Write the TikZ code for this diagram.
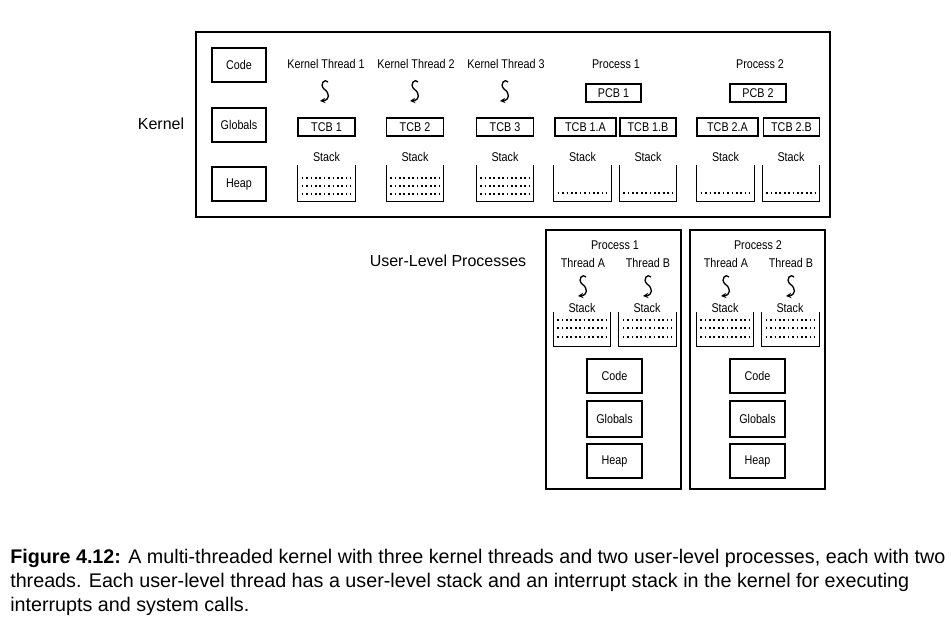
\documentclass[tikz,border=0pt]{standalone}
\usepackage{fontspec}
\setmainfont{Liberation Sans}
\newfontfamily\narrowfont[FakeStretch=0.85]{Liberation Sans}
\usetikzlibrary{arrows.meta}

% U-shaped stack holder with dotted rows
\newcommand{\stackcup}[1]{%
  \draw[frame] (#1.north west) -- (#1.south west) -- (#1.south east) -- (#1.north east);}
\newcommand{\stackrow}[2]{%
  \draw[dotrow] ([xshift=3pt,yshift=-#2]#1.north west) -- ([xshift=-3pt,yshift=-#2]#1.north east);}
% thread squiggle
\newcommand{\squiggle}[1]{%
  \draw[thread, shift={(#1)}] (3,-9) .. controls (0,-13) and (-6,-7) .. (-1,-2)
    .. controls (5,2) and (5,9) .. (-5,10);}

\begin{document}
\begin{tikzpicture}[
    x=0.75pt, y=-0.75pt,
    frame/.style={draw, line width=1pt},
    box/.style={frame, rectangle, inner sep=0pt, font=\narrowfont\fontsize{9.5}{11}\selectfont},
    membox/.style={box, minimum width=40.5pt, minimum height=25.5pt},
    tcb/.style={box, minimum width=42.75pt, minimum height=13.5pt},
    stackcap/.style={rectangle, inner sep=0pt, minimum width=42.75pt, minimum height=27pt},
    ustack/.style={stackcap, minimum height=25.5pt},
    lbl/.style={inner sep=0pt, font=\narrowfont\fontsize{9.5}{11}\selectfont},
    biglbl/.style={inner sep=0pt, font=\fontsize{12}{14}\selectfont},
    dotrow/.style={line width=1.3pt, dash pattern=on 1.3pt off 2pt},
    thread/.style={line width=1pt, -{Stealth[length=4pt,width=4pt]}}
]
\useasboundingbox (0,0) rectangle (951,627);

% Kernel frame
\draw[frame] (196,32) rectangle (830,217);
\node[biglbl] (kernel) at (161,124) {Kernel};

% Kernel code, globals, heap
\node[membox] (kcode) at (239,65) {Code};
\node[membox] (kglob) at (239,125) {Globals};
\node[membox] (kheap) at (239,184) {Heap};

% Kernel threads
\node[lbl] (kt1) at (326,64) {Kernel Thread 1};
\node[lbl] (kt2) at (416,64) {Kernel Thread 2};
\node[lbl] (kt3) at (506,64) {Kernel Thread 3};
\coordinate (sq1) at (325,91);
\coordinate (sq2) at (415,91);
\coordinate (sq3) at (505,91);
\squiggle{sq1}
\squiggle{sq2}
\squiggle{sq3}
\node[tcb] (tcb1) at (326.5,127) {TCB 1};
\node[tcb] (tcb2) at (415,127) {TCB 2};
\node[tcb] (tcb3) at (505,127) {TCB 3};

% Processes in the kernel
\node[lbl] (kp1) at (616,64) {Process 1};
\node[lbl] (kp2) at (760,64) {Process 2};
\node[tcb, minimum width=41.25pt] (pcb1) at (613.5,93) {PCB 1};
\node[tcb, minimum width=42pt] (pcb2) at (758,93) {PCB 2};
\node[tcb, minimum width=45.75pt] (tcb1a) at (585.5,127) {TCB 1.A};
\node[tcb, minimum width=42pt] (tcb1b) at (648,127) {TCB 1.B};
\node[tcb, minimum width=45.75pt] (tcb2a) at (727.5,127) {TCB 2.A};
\node[tcb, minimum width=42pt] (tcb2b) at (791.5,127) {TCB 2.B};

% Kernel stacks
\foreach \n/\x in {ks1/326.5, ks2/415, ks3/505, ks1a/582.5, ks1b/648, ks2a/725.5, ks2b/791}{
  \node[lbl] at (\x,157) {Stack};
  \node[stackcap] (\n) at (\x,183) {};
  \stackcup{\n}
}
\foreach \n in {ks1, ks2, ks3}{
  \stackrow{\n}{9.75pt}
  \stackrow{\n}{15.75pt}
  \stackrow{\n}{21.75pt}
}
\foreach \n in {ks1a, ks1b, ks2a, ks2b}{
  \stackrow{\n}{21pt}
}

% User-level processes
\node[biglbl] (user) at (448,261) {User-Level Processes};
\draw[frame] (546,230) rectangle (681,489);
\draw[frame] (690,230) rectangle (825,489);

\foreach \p/\o in {1/0, 2/143}{
  \node[lbl] (up\p) at (615+\o,245) {Process \p};
  \node[lbl] (ta\p) at (583+\o,263) {Thread A};
  \node[lbl] (tb\p) at (648+\o,263) {Thread B};
  \coordinate (sqa\p) at (583+\o,286);
  \coordinate (sqb\p) at (648+\o,286);
  \squiggle{sqa\p}
  \squiggle{sqb\p}
  \node[lbl] at (582+\o,308) {Stack};
  \node[lbl] at (647+\o,308) {Stack};
  \node[ustack] (usa\p) at (582+\o,329) {};
  \node[ustack] (usb\p) at (647.5+\o,329) {};
  \stackcup{usa\p}
  \stackcup{usb\p}
  \foreach \s in {usa\p, usb\p}{
    \stackrow{\s}{6pt}
    \stackrow{\s}{12pt}
    \stackrow{\s}{18.75pt}
  }
  \node[membox, minimum width=41.25pt] (ucode\p) at (614.5+\o,376) {Code};
  \node[membox, minimum width=41.25pt, minimum height=27pt] (uglob\p) at (614.5+\o,419) {Globals};
  \node[membox, minimum width=41.25pt] (uheap\p) at (614.5+\o,461) {Heap};
}

% Caption
\node[anchor=north west, align=left, inner sep=0pt, font=\fontsize{14.8}{18}\selectfont] (caption) at (10,549)
  {\textbf{Figure 4.12:} A multi-threaded kernel with three kernel threads and two user-level processes, each with two\\
   threads. Each user-level thread has a user-level stack and an interrupt stack in the kernel for executing\\
   interrupts and system calls.};

\end{tikzpicture}
\end{document}
